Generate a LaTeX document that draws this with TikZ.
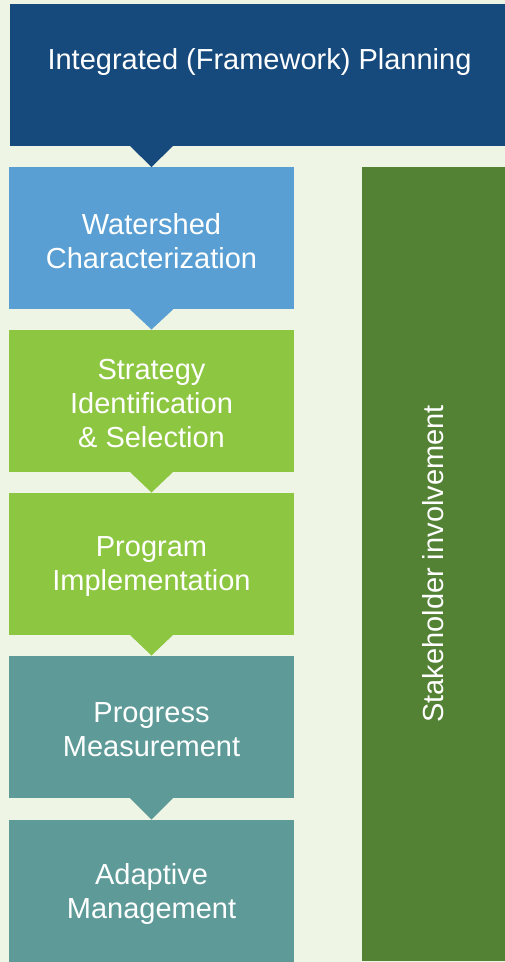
\documentclass[tikz,border=0pt]{standalone}
\usepackage{fontspec}
\setmainfont{Liberation Sans}
\usetikzlibrary{calc}
\definecolor{bgcol}{HTML}{EFF5E5}
\definecolor{navy}{HTML}{174A7C}
\definecolor{skyblue}{HTML}{599FD3}
\definecolor{leaf}{HTML}{8DC641}
\definecolor{teal}{HTML}{5E9B98}
\definecolor{forest}{HTML}{548235}
\tikzset{
  stage/.style={draw=none, minimum width=285pt, minimum height=142pt,
    inner sep=0pt, outer sep=0pt},
  caption/.style={text=white, align=center, inner sep=0pt,
    font=\fontsize{29}{34}\selectfont},
  pointer/.style={fill=#1, draw=none}
}
\begin{document}
\begin{tikzpicture}[x=1pt,y=-1pt]
  \useasboundingbox (0,0) rectangle (505,962);
  \fill[bgcol] (0,0) rectangle (505,962);

  % header band
  \node[fill=navy, minimum width=495pt, minimum height=142pt, inner sep=0pt, outer sep=0pt]
    (head) at (257.5,75) {};
  \node[caption] (headtext) at (259.5,61.5) {Integrated (Framework) Planning};

  % process stages
  \node[stage, fill=skyblue] (s1) at (151.5,238) {};
  \node[stage, fill=leaf]    (s2) at (151.5,400.5) {};
  \node[stage, fill=leaf]    (s3) at (151.5,563.5) {};
  \node[stage, fill=teal]    (s4) at (151.5,726.5) {};
  \node[stage, fill=teal]    (s5) at (151.5,890.5) {};

  % stage captions, set a little below each box centre
  \node[caption] (t1) at ($(s1.center)+(0,3.5)$) {Watershed\\Characterization};
  \node[caption] (t2) at ($(s2.center)+(0,3.5)$) {Strategy\\Identification\\\& Selection};
  \node[caption] (t3) at ($(s3.center)+(0,3.5)$) {Program\\Implementation};
  \node[caption] (t4) at ($(s4.center)+(0,3.5)$) {Progress\\Measurement};
  \node[caption] (t5) at ($(s5.center)+(0,3.5)$) {Adaptive\\Management};

  % stakeholder column
  \node[fill=forest, minimum width=143pt, minimum height=794pt, inner sep=0pt, outer sep=0pt]
    (stake) at (433.5,564) {};
  \node[caption, rotate=90] (staketext) at (433.5,564) {Stakeholder involvement};

  % pointers between stages
  \fill[pointer=navy] ($(head.south -| s1.north)+(-21.5,0)$) -- (s1.north)
    -- ($(head.south -| s1.north)+(21.5,0)$) -- cycle;
  \foreach \a/\b/\c in {s1/s2/skyblue, s2/s3/leaf, s3/s4/leaf, s4/s5/teal}{
    \fill[pointer=\c] ($(\a.south)+(-22,0)$) -- (\b.north) -- ($(\a.south)+(22,0)$) -- cycle;
  }
\end{tikzpicture}
\end{document}
